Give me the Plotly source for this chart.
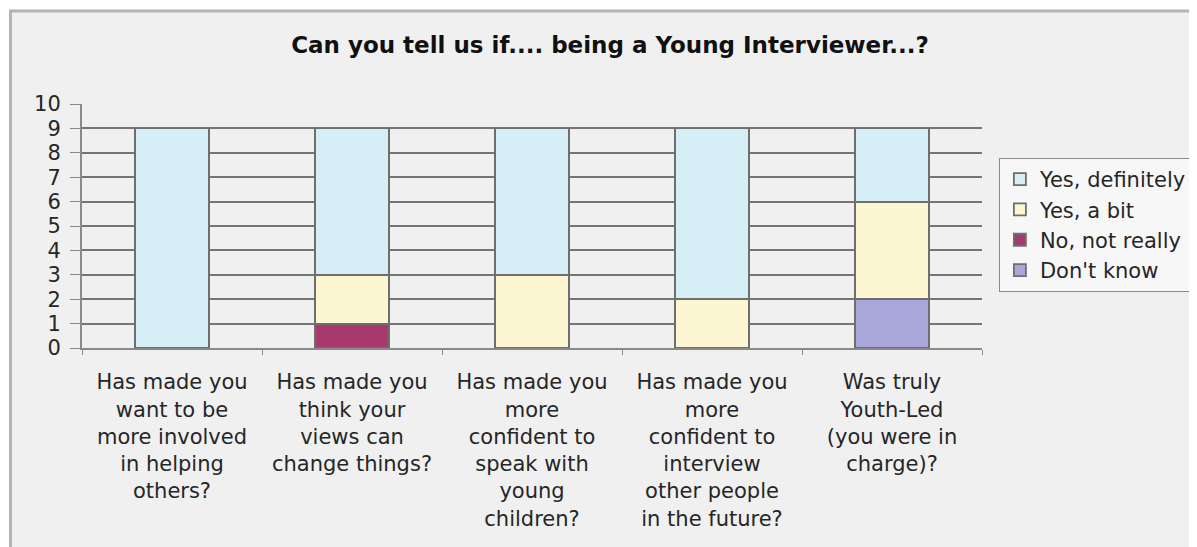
import plotly.graph_objects as go

categories = [
    "Has made you<br>want to be<br>more involved<br>in helping<br>others?",
    "Has made you<br>think your<br>views can<br>change things?",
    "Has made you<br>more<br>confident to<br>speak with<br>young<br>children?",
    "Has made you<br>more<br>confident to<br>interview<br>other people<br>in the future?",
    "Was truly<br>Youth-Led<br>(you were in<br>charge)?",
]
dont_know = [0, 0, 0, 0, 2]
no_not_really = [0, 1, 0, 0, 0]
yes_a_bit = [0, 2, 3, 2, 4]
yes_definitely = [9, 6, 6, 7, 3]

series = [
    ("Don't know", dont_know, "#a9a6d9"),
    ("No, not really", no_not_really, "#a8396f"),
    ("Yes, a bit", yes_a_bit, "#fcf7d2"),
    ("Yes, definitely", yes_definitely, "#d6eef5"),
]

W, H = 1197, 547
OFF = 8  # page body margin offset
L = 82 - OFF
T = 104 - OFF
R = W - (988 - OFF)
B = H - (348 - OFF)
pw = W - L - R
ph = H - T - B

fig = go.Figure()
for name, vals, col in series:
    fig.add_trace(go.Bar(
        x=categories, y=vals, name=name,
        marker=dict(color=col, line=dict(color="#6e6e6e", width=1.8)),
    ))

def px_x(p):
    return (p - OFF - L) / pw

def px_y(p):
    return (H - B - (p - OFF)) / ph

fig.add_shape(
    type="rect", xref="paper", yref="paper",
    x0=px_x(10), x1=px_x(1215), y0=px_y(570), y1=px_y(11),
    fillcolor="#f0f0f0", line=dict(color="#b4b4b4", width=3), layer="below",
)

fig.update_layout(
    width=W, height=H,
    margin=dict(l=L, r=R, t=T, b=B),
    paper_bgcolor="white",
    plot_bgcolor="rgba(0,0,0,0)",
    barmode="stack",
    bargap=0.59,
    font=dict(family="DejaVu Sans", color="#262626", size=21),
    title=dict(
        text="<b>Can you tell us if.... being a Young Interviewer...?</b>",
        x=(610 - OFF) / W, xref="container", xanchor="center",
        y=1 - (45 - OFF) / H, yref="container", yanchor="middle",
        font=dict(family="DejaVu Sans", size=23, color="#111111"),
    ),
    showlegend=True,
    legend=dict(
        traceorder="reversed",
        x=px_x(1005), y=px_y(158), xanchor="left", yanchor="top",
        bordercolor="#8a8a8a", borderwidth=1, bgcolor="#f7f7f7",
        font=dict(family="DejaVu Sans", size=21, color="#262626"),
        itemwidth=30,
    ),
    xaxis=dict(
        type="category",
        showgrid=False,
        showline=True, linecolor="#8a8a8a", linewidth=2,
        ticks="outside", tickson="boundaries", ticklen=5, tickcolor="#8a8a8a",
        tickfont=dict(size=21, color="#262626"),
        ticklabelstandoff=14,
    ),
    yaxis=dict(
        range=[0, 10], dtick=1,
        showgrid=True, gridcolor="#747474", gridwidth=2,
        showline=True, linecolor="#8a8a8a", linewidth=2,
        ticks="outside", ticklen=10, tickcolor="#8a8a8a",
        tickfont=dict(size=21, color="#262626"),
        ticklabelstandoff=5,
        zeroline=False,
    ),
)

fig.write_html("out.html")
